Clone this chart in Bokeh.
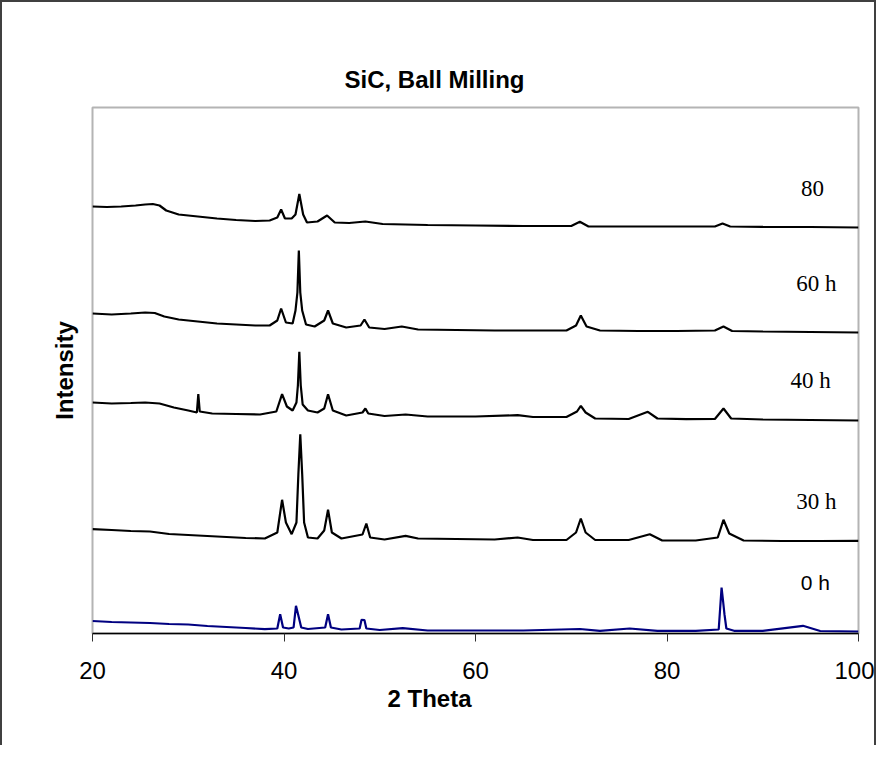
from bokeh.plotting import figure
from bokeh.models import Range1d, FixedTicker, ColumnDataSource, Title
from bokeh.core.properties import value
from bokeh.embed import file_html
from bokeh.resources import INLINE

# ---------------- data (intensity in arbitrary units) ----------------
x_80 = [20, 21.5, 23, 24.5, 25.5, 26.3, 27, 27.7, 29, 31, 33, 35, 37, 38.5, 39.3, 39.7, 40.1, 40.8,
        41.2, 41.6, 42.0, 42.4, 43.5, 44.5, 45.3, 46.8, 48.5, 50.3, 55, 60, 65, 70, 70.9, 71.8, 75,
        80, 85, 85.8, 86.6, 90, 95, 100]
y_80 = [427, 426.5, 427, 428, 429, 429.5, 428, 423, 419, 417, 415, 413.5, 412.5, 413, 416, 424, 415,
        415, 419, 439.5, 419, 411, 412, 418, 411, 410.5, 412, 409.5, 408.5, 408, 407.5, 407.5, 411.7,
        407, 407, 407, 407, 410, 407, 406.7, 406.5, 406]

x_60 = [20, 22, 24, 25.5, 26.5, 27.5, 29, 31, 33, 35, 37, 38.5, 39.3, 39.7, 40.2, 40.9, 41.2, 41.4,
        41.55, 41.7, 41.9, 42.3, 43.2, 44.2, 44.6, 45.1, 46.5, 48.0, 48.4, 48.9, 50.5, 52.3, 54, 58,
        62, 66, 69.5, 70.5, 71.0, 71.6, 73, 77, 81, 85, 85.9, 86.8, 90, 95, 100]
y_60 = [320, 319, 320, 321, 320.5, 317, 314, 312, 310, 309, 308, 308, 313, 325, 311, 310, 323, 341,
        383, 341, 323, 309, 307, 313, 323, 310, 306, 308, 314, 306, 304.5, 307, 304, 303.5, 303, 303,
        303, 308, 318, 307, 303, 302.5, 302.5, 303, 307, 302.5, 302, 301.5, 301]

x_40 = [20, 22, 24, 25.5, 27, 28.5, 30, 30.9, 31.05, 31.2, 32.5, 35, 37.5, 39.2, 39.8, 40.3, 40.9,
        41.3, 41.45, 41.6, 41.75, 41.95, 42.5, 43.5, 44.2, 44.6, 45.1, 46.5, 48.2, 48.5, 48.8, 50.5,
        52.7, 55, 60, 64.4, 66, 69.5, 70.6, 71.0, 71.5, 72.5, 76, 78.0, 79, 82, 85, 85.9, 86.7, 90,
        95, 100]
y_40 = [231, 230, 230.5, 231, 230, 226, 223, 221, 239.3, 222, 220, 219.5, 219, 222, 239.3, 227, 223,
        231, 248, 281.7, 248, 229, 223, 221, 225, 239.3, 223, 218, 221, 225, 220, 217.5, 219, 217,
        217, 218.3, 216.5, 216.5, 222, 227.7, 221, 215, 214.5, 221.7, 215, 214.3, 214.5, 225, 215,
        214, 213.5, 213]

x_30 = [20, 22, 24, 26, 28, 30, 32, 34, 36, 38, 39.3, 39.8, 40.2, 40.8, 41.3, 41.5, 41.7, 41.9, 42.1,
        42.5, 43.5, 44.2, 44.6, 45.0, 46, 48.2, 48.6, 49.0, 50.5, 52.7, 54, 58, 62, 64.4, 66, 69.5,
        70.5, 71.0, 71.5, 72.5, 76, 78.2, 79.5, 83, 85.3, 85.9, 86.5, 88, 92, 96, 100]
y_30 = [104.3, 103.5, 102.5, 102, 99.5, 98.5, 97.5, 96.5, 95.5, 95, 101, 133.7, 111, 99.3, 111, 159.3,
        199.3, 159.3, 111, 96, 95, 103, 123.7, 101, 95, 99, 110, 96, 94, 97.7, 95, 94.5, 94, 96, 93.5,
        93.5, 101, 115, 101, 93.5, 93.5, 99.3, 93, 93, 96, 113.7, 100, 93, 92.5, 92.5, 92.7]

x_0 = [20, 22, 24, 26, 28, 30, 32, 34, 36, 38, 39.3, 39.6, 39.9, 40.5, 41.0, 41.25, 41.5, 41.8, 42.5,
       44.3, 44.6, 44.9, 46, 47.9, 48.1, 48.4, 48.6, 50, 52.4, 55, 60, 65, 70.9, 73, 76.1, 79, 83,
       85.4, 85.7, 85.85, 86.0, 86.2, 87, 90, 94.2, 96, 100]
y_0 = [12.5, 11.5, 11, 10.5, 9.5, 9, 7.5, 6.5, 5.5, 4.3, 5, 19.3, 6, 5, 6, 27.7, 18, 6, 4.5, 6, 19.3,
       6, 4, 5, 13.7, 13.5, 5, 3.5, 5.3, 3, 3, 3, 4.5, 2.7, 5, 2.7, 2.7, 4, 46, 33, 19.3, 5, 2.7, 2.7,
       7.7, 2.5, 2]

serif_label_x = [95.2, 95.6, 95.0, 95.6]
serif_label_y = [445.5, 350, 253, 132.5]
serif_label_text = ["80", "60 h", "40 h", "30 h"]
sans_label_x = [95.5]
sans_label_y = [51]
sans_label_text = ["0 h"]

x_ticks = [20, 40, 60, 80, 100]
title_text = "SiC, Ball Milling"
x_title_text = "2 Theta"

# ---------------- figure ----------------
p = figure(width=876, height=745, output_backend="svg", toolbar_location=None,
           x_range=Range1d(20, 100), y_range=Range1d(0, 526),
           min_border_left=90, min_border_right=20, min_border_top=105, min_border_bottom=114)
p.styles = {"border-left": "2px solid #404040", "border-top": "2px solid #404040",
            "border-right": "2px solid #404040"}
p.background_fill_color = "white"
p.border_fill_color = "white"
p.outline_line_color = "#b4b4b4"
p.outline_line_width = 2
p.grid.visible = False

xa = p.xaxis[0]
xa.ticker = FixedTicker(ticks=x_ticks)
xa.axis_line_color = "black"
xa.axis_line_width = 1.5
xa.major_tick_line_color = "#303030"
xa.major_tick_out = 8
xa.major_tick_in = 0
xa.minor_tick_line_color = None
xa.major_label_text_font = "Liberation Sans"
xa.major_label_text_font_size = "24px"
xa.major_label_text_color = "black"
xa.major_label_standoff = 20

ya = p.yaxis[0]
ya.ticker = FixedTicker(ticks=[])
ya.axis_line_color = None
ya.major_tick_line_color = None
ya.minor_tick_line_color = None
ya.major_tick_out = 0
ya.major_label_standoff = 0
ya.axis_label = "Intensity"
ya.axis_label_text_font = "Liberation Sans"
ya.axis_label_text_font_style = "bold"
ya.axis_label_text_font_size = "24px"
ya.axis_label_text_color = "black"
ya.axis_label_standoff = 15

# chart title and x-axis title, centred on the chart area (as in the original)
p.add_layout(Title(text=title_text, align="left", offset=252, standoff=30,
                   text_font="Liberation Sans", text_font_style="bold",
                   text_font_size="24px", text_color="black"), "above")
p.add_layout(Title(text=x_title_text, align="left", offset=295, standoff=3,
                   text_font="Liberation Sans", text_font_style="bold",
                   text_font_size="24px", text_color="black"), "below")

for xs, ys in [(x_80, y_80), (x_60, y_60), (x_40, y_40), (x_30, y_30)]:
    p.line(xs, ys, line_color="black", line_width=2.2)
p.line(x_0, y_0, line_color="#000080", line_width=2.2)

src_serif = ColumnDataSource(dict(x=serif_label_x, y=serif_label_y, t=serif_label_text))
p.text(x="x", y="y", text="t", source=src_serif, text_font=value("Liberation Serif"),
       text_font_size="23px", text_align="center", text_baseline="middle", text_color="black")
src_sans = ColumnDataSource(dict(x=sans_label_x, y=sans_label_y, t=sans_label_text))
p.text(x="x", y="y", text="t", source=src_sans, text_font=value("Liberation Sans"),
       text_font_size="21px", text_align="center", text_baseline="middle", text_color="black")

open("out.html", "w").write(file_html(p, INLINE))
